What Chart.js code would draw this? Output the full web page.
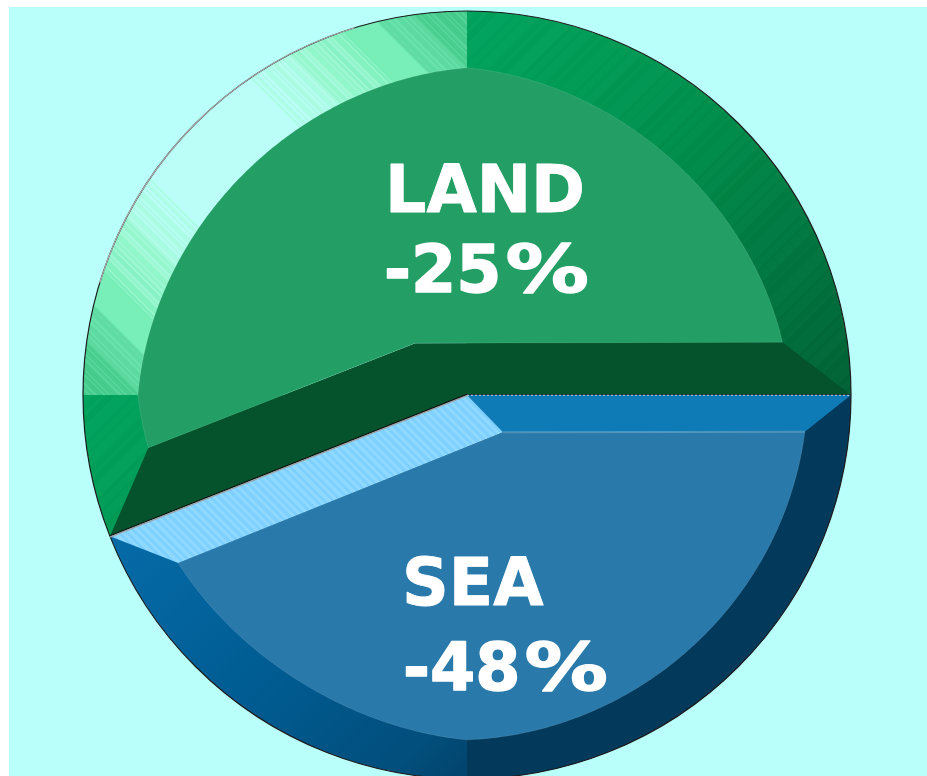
<!DOCTYPE html>
<html>
<head>
<meta charset="utf-8">
<style>
html,body{margin:0;padding:0;background:#fff;overflow:hidden;width:927px;height:776px}
#wrap{position:absolute;left:9px;top:7px;width:918px;height:769px;overflow:hidden;background:#b9fffa}
#c{display:block;width:916px;height:776px}
</style>
<script src="https://cdn.jsdelivr.net/npm/chart.js@4/dist/chart.umd.min.js"></script>
</head>
<body>
<div id="wrap"><canvas id="c" width="916" height="776"></canvas></div>
<script>
// Data
const categories = ['SEA', 'LAND'];
const shareValues = [44, 56];
const changeLabels = ['-48%', '-25%'];

// Styling: [from deg, to deg, start radius, end radius, sag], degrees counted from the slice start
const seaSegments = [[6.2,90,.885,.898,.012],[90,149.8,.898,.870,.020]];
const landSegments = [[12.2,21.6,.841,.857,0],[21.6,111.6,.857,.852,.036],[111.6,192.1,.852,.833,.030]];
const D = Math.PI / 180;
const landApex = [225, .191];
const seaApex = [45.8, .135];
const seaStops = [[0,'#0874b4'],[.30,'#066ba8'],[.57,'#005c92'],[.78,'#024e7c'],[.854,'#02446c'],[1,'#02446c']];
const landStops = [[0,'#00a85f'],[.146,'#00a35e'],[.32,'#009a55'],[.5,'#008a4a'],[.68,'#00743f'],[.854,'#006035'],[1,'#006035']];
const mintBands = [
  [.18,.30,'#bbfef8','#a8fbdf'],
  [.30,.37,'#a6fadc','#8ef5c8'],
  [.37,.44,'#a0f8d4','#7ff0bc'],
  [.44,.52,'#78eeb8','#78eeb8'],
  [.52,.60,'#6ae4ac','#5ad89e'],
  [.60,.72,'#58d69c','#3fc888'],
  [.72,1,'#3fc888','#3fc888']
];
const stripePattern = [1,2,1,3,2,1,2,4];
const percentStretch = 1.28;
const percentGap = 4;

function lin(ctx, cx, cy, R, sign) {
  const k = R / Math.SQRT2;
  return ctx.createLinearGradient(cx - k, cy - sign * k, cx + k, cy + sign * k);
}
function hexRgb(h) { return [1, 3, 5].map(i => parseInt(h.substr(i, 2), 16)); }
function sampleStops(stops, t) {
  for (let i = 1; i < stops.length; i++) {
    if (t <= stops[i][0]) {
      const a = stops[i - 1], b = stops[i], f = (t - a[0]) / (b[0] - a[0] || 1);
      const A = hexRgb(a[1]), B = hexRgb(b[1]);
      return A.map((v, j) => v + (B[j] - v) * f);
    }
  }
  return hexRgb(stops[stops.length - 1][1]);
}
function bandFill(context) {
  const chart = context.chart, a = chart.chartArea;
  if (!a) return '#888';
  const R = Math.min(a.width, a.height) / 2, cx = (a.left + a.right) / 2, cy = (a.top + a.bottom) / 2;
  const g = lin(chart.ctx, cx, cy, R, 1);
  if (context.dataIndex === 0) {
    seaStops.forEach(s => g.addColorStop(s[0], s[1]));
  } else {
    let t = 0, i = 0;
    while (t < 1) {
      const e = Math.min(1, t + stripePattern[i % stripePattern.length] * .004);
      const c = sampleStops(landStops, t).map(v => Math.round(v + (i % 2 ? 1.5 : -1.5)));
      const css = 'rgb(' + c.map(v => Math.max(0, v)).join(',') + ')';
      g.addColorStop(t, css);
      g.addColorStop(e, css);
      t = e; i++;
    }
  }
  return g;
}
function pt(a, deg, frac) {
  return [a.x + Math.cos(deg * D) * frac * a.outerRadius, a.y + Math.sin(deg * D) * frac * a.outerRadius];
}
function mintGradient(ctx, a) {
  const g = lin(ctx, a.x, a.y, a.outerRadius, -1);
  const list = [[0, '#bbfef8'], [.18, '#bbfef8']];
  mintBands.forEach(b => {
    let t = b[0], i = 0;
    while (t < b[1]) {
      const e = Math.min(t + stripePattern[i % stripePattern.length] * .0035, b[1]);
      const mix = (t - b[0]) / (b[1] - b[0]);
      const A = hexRgb(b[2]), B = hexRgb(b[3]);
      const base = A.map((v, j) => Math.round(v + (B[j] - v) * mix));
      const c = i % 2 ? base.map((v, j) => Math.round(v + (B[j] - v) * .6)) : base.map((v, j) => Math.round(v + (A[j] - v) * .6));
      const css = 'rgb(' + c.join(',') + ')';
      list.push([t, css]);
      list.push([e, css]);
      t = e; i++;
    }
  });
  list.forEach(s => { g.addColorStop(.5 + s[0] / 2, s[1]); });
  list.slice().reverse().forEach(s => { g.addColorStop(.5 - s[0] / 2, s[1]); });
  return g;
}
function hatchGradient(ctx, a, c1, c2) {
  const g = lin(ctx, a.x, a.y, a.outerRadius, -1);
  const n = Math.floor(a.outerRadius * 2 / 3);
  for (let i = 0; i < n; i++) {
    g.addColorStop(i / n, i % 2 ? c2 : c1);
    g.addColorStop((i + 1) / n, i % 2 ? c2 : c1);
  }
  return g;
}
function facePath(ctx, a, startDeg, apex, segs) {
  const A = pt(a, apex[0], apex[1]);
  ctx.beginPath();
  ctx.moveTo(A[0], A[1]);
  segs.forEach(s => {
    const n = Math.ceil((s[1] - s[0]) * 2);
    for (let i = 0; i <= n; i++) {
      const u = i / n;
      const r = s[2] + (s[3] - s[2]) * u - s[4] * Math.sin(Math.PI * u);
      const p = pt(a, startDeg + s[0] + (s[1] - s[0]) * u, r);
      ctx.lineTo(p[0], p[1]);
    }
  });
  ctx.closePath();
}
function poly(ctx, pts, fill) {
  ctx.beginPath();
  pts.forEach((p, i) => i ? ctx.lineTo(p[0], p[1]) : ctx.moveTo(p[0], p[1]));
  ctx.closePath();
  ctx.fillStyle = fill;
  ctx.fill();
}
function heavyText(ctx, s, x, y, weight) {
  ctx.lineWidth = weight;
  ctx.lineJoin = 'round';
  ctx.strokeText(s, x, y);
  ctx.fillText(s, x, y);
}
function drawLabel(ctx, text, x, y) {
  const hasPct = text.endsWith('%');
  const body = hasPct ? text.slice(0, -1) : text;
  heavyText(ctx, body, x, y, hasPct ? 1.4 : 0.8);
  if (hasPct) {
    const w = ctx.measureText(body).width;
    ctx.save();
    ctx.translate(x + w + percentGap, y);
    ctx.scale(percentStretch, 1);
    heavyText(ctx, '%', 0, 0, 1.4);
    ctx.restore();
  }
}

const bevelPlugin = {
  id: 'bevel',
  afterDatasetsDraw(chart) {
    const ctx = chart.ctx, arcs = chart.getDatasetMeta(0).data;
    const sea = arcs[0], land = arcs[1];
    const sd = sea.startAngle / D, ld = land.startAngle / D;
    const c = [sea.x, sea.y], R = sea.outerRadius;
    ctx.save();

    // shaded lower-right band of the sea slice
    ctx.beginPath();
    ctx.moveTo(c[0], c[1]);
    ctx.arc(c[0], c[1], R, 0, 90 * D);
    ctx.closePath();
    ctx.fillStyle = '#033a5c';
    ctx.fill();

    // lit upper-left band of the land slice
    ctx.beginPath();
    ctx.moveTo(c[0], c[1]);
    ctx.arc(c[0], c[1], R, 180 * D, 270 * D);
    ctx.closePath();
    ctx.fillStyle = mintGradient(ctx, land);
    ctx.fill();

    // flat bevels along the slice edges
    const firstL = landSegments[0], lastL = landSegments[landSegments.length - 1];
    const firstS = seaSegments[0], lastS = seaSegments[seaSegments.length - 1];
    const lp0 = pt(land, ld + firstL[0], firstL[2]);
    const lpN = pt(land, ld + lastL[1], lastL[3]);
    const lA = pt(land, landApex[0], landApex[1]);
    poly(ctx, [c, pt(land, land.endAngle / D, 1), lpN, lA, lp0, pt(land, ld, 1)], '#05532c');

    const sp0 = pt(sea, sd + firstS[0], firstS[2]);
    const spN = pt(sea, sd + lastS[1], lastS[3]);
    const sA = pt(sea, seaApex[0], seaApex[1]);
    poly(ctx, [c, pt(sea, sd, 1), sp0, sA], '#0f7bb6');
    poly(ctx, [c, sA, spN, pt(sea, sea.endAngle / D, 1)], hatchGradient(ctx, sea, '#8fd9ff', '#7dd0ff'));

    // top faces
    facePath(ctx, land, ld, landApex, landSegments);
    ctx.fillStyle = '#239f66';
    ctx.fill();
    ctx.strokeStyle = 'rgba(255,255,255,.10)';
    ctx.lineWidth = 1;
    ctx.stroke();
    facePath(ctx, sea, sd, seaApex, seaSegments);
    ctx.fillStyle = '#297aab';
    ctx.fill();
    ctx.strokeStyle = 'rgba(255,255,255,.10)';
    ctx.stroke();
    ctx.beginPath();
    ctx.moveTo(sA[0], sA[1]);
    ctx.lineTo(sp0[0], sp0[1]);
    ctx.strokeStyle = 'rgba(255,255,255,.18)';
    ctx.lineWidth = 2;
    ctx.stroke();

    // outlines
    ctx.lineWidth = 1.2;
    ctx.strokeStyle = '#1c1c1c';
    ctx.beginPath();
    ctx.arc(c[0], c[1], R, 0, Math.PI * 2);
    ctx.stroke();
    ctx.strokeStyle = '#a8a8a8';
    ctx.beginPath();
    ctx.arc(c[0], c[1], R, 197 * D, 253 * D);
    ctx.stroke();

    const s1 = pt(land, ld, 1);
    ctx.lineWidth = 1.3;
    ctx.strokeStyle = '#111';
    ctx.beginPath(); ctx.moveTo(c[0], c[1] - .6); ctx.lineTo(s1[0], s1[1] - .6); ctx.stroke();
    ctx.strokeStyle = '#a0a0a0';
    ctx.beginPath(); ctx.moveTo(c[0], c[1] + .7); ctx.lineTo(s1[0], s1[1] + .7); ctx.stroke();
    ctx.lineWidth = 1;
    ctx.strokeStyle = '#12352a';
    ctx.beginPath(); ctx.moveTo(c[0], c[1] - .5); ctx.lineTo(c[0] + R, c[1] - .5); ctx.stroke();
    ctx.strokeStyle = '#c8c8c8';
    ctx.setLineDash([2, 2]);
    ctx.beginPath(); ctx.moveTo(c[0], c[1] + .3); ctx.lineTo(c[0] + R, c[1] + .3); ctx.stroke();
    ctx.setLineDash([]);

    // labels
    ctx.fillStyle = '#fff';
    ctx.strokeStyle = '#fff';
    ctx.font = 'bold 65px "DejaVu Sans"';
    ctx.textAlign = 'left';
    ctx.textBaseline = 'alphabetic';
    const k = R / 384;
    drawLabel(ctx, categories[1], c[0] - 82 * k, c[1] - 183 * k);
    drawLabel(ctx, changeLabels[1], c[0] - 83 * k, c[1] - 103 * k);
    drawLabel(ctx, categories[0], c[0] - 65 * k, c[1] + 210 * k);
    drawLabel(ctx, changeLabels[0], c[0] - 64 * k, c[1] + 295 * k);
    ctx.restore();
  }
};

new Chart(document.getElementById('c'), {
  type: 'pie',
  data: {
    labels: categories,
    datasets: [{ data: shareValues, backgroundColor: bandFill, borderWidth: 0, hoverOffset: 0 }]
  },
  options: {
    responsive: false,
    animation: false,
    rotation: 90,
    layout: { padding: 4 },
    events: [],
    plugins: { legend: { display: false }, title: { display: false }, tooltip: { enabled: false } }
  },
  plugins: [bevelPlugin]
});
</script>
</body>
</html>
